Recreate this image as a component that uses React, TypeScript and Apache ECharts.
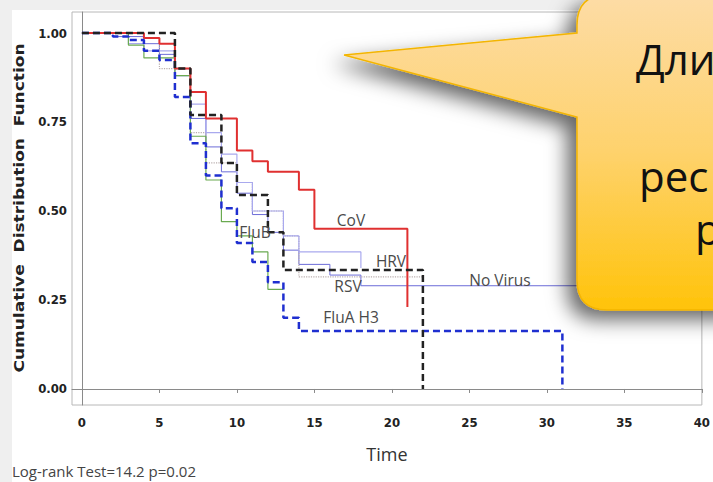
import React, { useEffect, useRef } from "react";
import * as echarts from "echarts";

// ---- data ----
const xTicks = [0, 5, 10, 15, 20, 25, 30, 35, 40];
const yTicks = [0, 0.25, 0.5, 0.75, 1];

const covT = [0, 4, 5, 6, 7, 8, 10, 11, 12, 14, 15, 21];
const covS = [1, 0.986, 0.97, 0.9, 0.834, 0.76, 0.67, 0.64, 0.61, 0.56, 0.45, 0.23];

const otherT = [0, 6, 7, 9, 10, 12, 13, 22];
const otherS = [1, 0.9, 0.77, 0.635, 0.545, 0.44, 0.334, 0];

const fluAT = [0, 2, 3, 4, 5, 6, 7, 8, 9, 10, 11, 12, 13, 14, 31];
const fluAS = [1, 0.99, 0.98, 0.95, 0.924, 0.82, 0.69, 0.6, 0.508, 0.41, 0.357, 0.3, 0.2, 0.163, 0];

const hrvT = [0, 3, 4, 6, 7, 8, 9, 10, 11, 13, 14, 18];
const hrvS = [1, 0.97, 0.95, 0.9, 0.8, 0.72, 0.66, 0.58, 0.5, 0.43, 0.385, 0.34];

const rsvT = [0, 4, 5, 7, 8, 10, 11, 13, 14, 22];
const rsvS = [1, 0.985, 0.9, 0.72, 0.635, 0.58, 0.5, 0.43, 0.315, 0.315];

const fluBT = [0, 3, 4, 6, 7, 8, 9, 10, 11, 12, 13];
const fluBS = [1, 0.966, 0.93, 0.88, 0.71, 0.587, 0.47, 0.43, 0.385, 0.28, 0.28];

const noVirusT = [0, 2, 4, 5, 6, 7, 8, 9, 10, 11, 12, 13, 14, 16, 18, 40];
const noVirusS = [1, 0.99, 0.97, 0.94, 0.88, 0.76, 0.68, 0.61, 0.55, 0.49, 0.44, 0.39, 0.35, 0.32, 0.29, 0.29];

const yAxisTitle = "Cumulative  Distribution  Function";
const xAxisTitle = "Time";
const testNote = "Log-rank Test=14.2 p=0.02";
const calloutLines = ["Дли", "рес", "р"];

const pairs = (t: number[], s: number[]) => t.map((v, i) => [v, s[i]]);

const LABEL_FONT = "'Open Sans', 'Noto Sans', sans-serif";
const TICK_FONT = "'Liberation Sans Narrow', 'DejaVu Sans Condensed', 'Liberation Sans', sans-serif";

const calloutPath =
  "M 607 -5 L 780 -5 L 780 310 L 607 310 Q 577 310 577 280 L 577 117 L 344 55 L 577 33 L 577 25 Q 577 -5 607 -5 Z";

let registered = false;

export default function App() {
  const ref = useRef<HTMLDivElement>(null);

  useEffect(() => {
    document.body.style.margin = "0";
    if (!registered) {
      echarts.graphic.registerShape("callout", echarts.graphic.extendPath(calloutPath, {}) as any);
      registered = true;
    }
    const chart = echarts.init(ref.current!, undefined, { renderer: "svg" });

    const step = (name: string, t: number[], s: number[], color: string, width: number, type: any, z: number) => ({
      name,
      type: "line",
      step: "end",
      data: pairs(t, s),
      showSymbol: false,
      symbol: "none",
      silent: true,
      z,
      lineStyle: { color, width, type },
    });

    const curveLabel = (text: string, x: number, y: number) => ({
      type: "text",
      x,
      y,
      z: 50,
      style: {
        text,
        fill: "#4a4a4a",
        font: `15.5px ${LABEL_FONT}`,
        align: "center",
        verticalAlign: "middle",
      },
    });

    const calloutText = (text: string, x: number, y: number) => ({
      type: "text",
      x,
      y,
      z: 101,
      style: { text, fill: "#111", font: `42px ${LABEL_FONT}`, verticalAlign: "middle" },
    });

    chart.setOption({
      animation: false,
      backgroundColor: "#efefef",
      grid: {
        left: 72,
        top: 12,
        right: 3,
        bottom: 77,
        show: true,
        backgroundColor: "#ffffff",
        borderColor: "#b8b8b8",
        borderWidth: 1,
      },
      xAxis: {
        type: "value",
        min: -0.64,
        max: 40,
        name: xAxisTitle,
        nameLocation: "middle",
        nameGap: 40,
        nameTextStyle: { fontFamily: LABEL_FONT, fontSize: 18, color: "#333" },
        axisLine: { show: true, lineStyle: { color: "#8a8a8a", width: 1 } },
        axisTick: { show: true, length: 4, customValues: xTicks, lineStyle: { color: "#8a8a8a" } },
        axisLabel: {
          customValues: xTicks,
          margin: 11,
          fontFamily: TICK_FONT,
          fontWeight: "bold",
          fontSize: 13,
          color: "#222",
        },
        splitLine: { show: false },
      },
      yAxis: {
        type: "value",
        min: -0.045,
        max: 1.059,
        axisLine: { show: true, lineStyle: { color: "#8a8a8a", width: 1 } },
        axisTick: { show: false },
        axisLabel: {
          customValues: yTicks,
          margin: 5,
          formatter: (v: number) => v.toFixed(2),
          fontFamily: TICK_FONT,
          fontWeight: "bold",
          fontSize: 13,
          color: "#222",
        },
        splitLine: { show: false },
      },
      series: [
        step("No Virus", noVirusT, noVirusS, "#6c6cd8", 1, "solid", 2),
        step("RSV", rsvT, rsvS, "#b9adad", 1.2, "dotted", 2),
        step("HRV", hrvT, hrvS, "#a9a9ee", 1.2, "solid", 2),
        step("FluB", fluBT, fluBS, "#6aaa50", 1.2, "solid", 2),
        step("CoV", covT, covS, "#e03030", 2, "solid", 3),
        step("FluA H3", fluAT, fluAS, "#1f2fd0", 2.5, [7, 4], 4),
        step("Other", otherT, otherS, "#222222", 2.5, [7, 4], 5),
      ],
      graphic: [
        { type: "rect", z: -10, shape: { x: 12, y: 10, width: 701, height: 472 }, style: { fill: "#ffffff" }, silent: true },
        {
          type: "text",
          x: 20,
          y: 208,
          rotation: Math.PI / 2,
          scaleX: 1.26,
          z: 50,
          style: {
            text: yAxisTitle,
            fill: "#222",
            font: "bold 13.5px 'DejaVu Sans', sans-serif",
            align: "center",
            verticalAlign: "middle",
          },
        },
        curveLabel("CoV", 351, 220),
        curveLabel("HRV", 391, 261),
        curveLabel("RSV", 348, 286),
        curveLabel("No Virus", 500, 280),
        curveLabel("FluA H3", 351, 317),
        curveLabel("FluB", 255, 232),
        {
          type: "text",
          x: 12,
          y: 471,
          z: 50,
          style: { text: testNote, fill: "#444", font: `15px ${LABEL_FONT}`, verticalAlign: "middle" },
        },
        {
          type: "callout",
          x: 0,
          y: 0,
          z: 100,
          silent: true,
          style: {
            fill: new echarts.graphic.LinearGradient(0, 0, 0, 1, [
              { offset: 0, color: "#fddca6" },
              { offset: 0.5, color: "#fed26c" },
              { offset: 1, color: "#ffc30a" },
            ]),
            stroke: "#f3b505",
            lineWidth: 1.5,
            shadowBlur: 20,
            shadowColor: "rgba(0,0,0,0.6)",
            shadowOffsetX: -9,
            shadowOffsetY: 9,
          },
        },
        calloutText(calloutLines[0], 636, 58),
        calloutText(calloutLines[1], 639, 175),
        calloutText(calloutLines[2], 695, 228),
      ],
    });

    return () => chart.dispose();
  }, []);

  return <div ref={ref} style={{ width: 713, height: 482 }} />;
}
